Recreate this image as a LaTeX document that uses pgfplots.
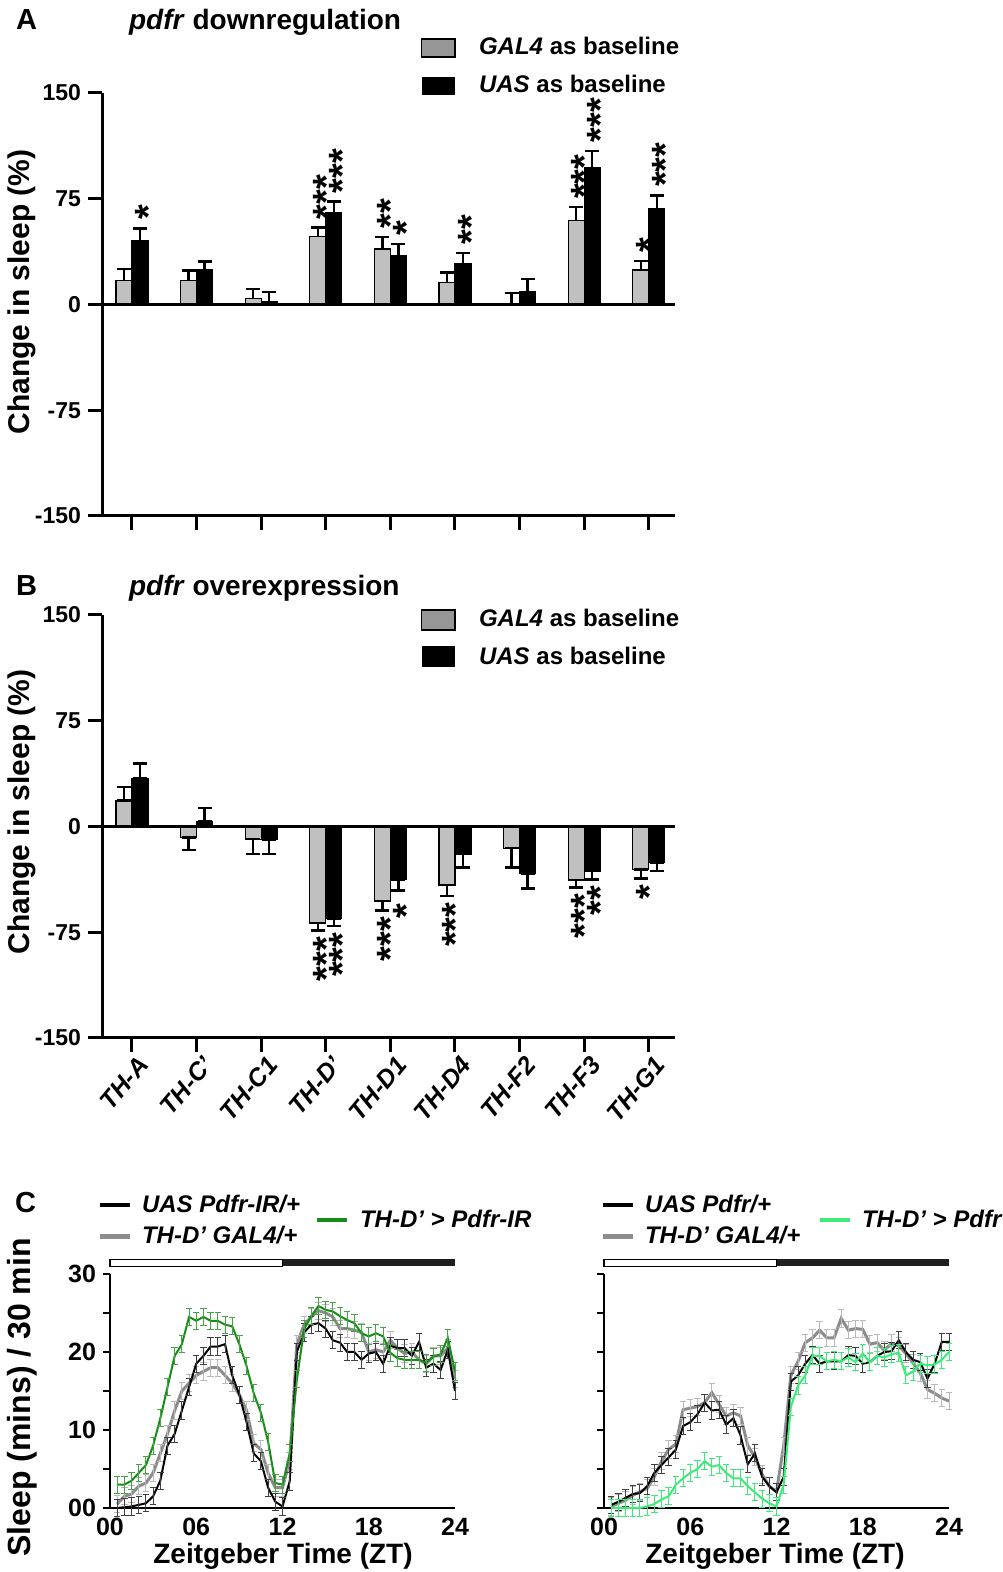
\documentclass[border=0pt]{standalone}
\usepackage{fontspec}
\setmainfont{Liberation Sans}
\usepackage{pgfplots}
\pgfplotsset{compat=1.18}
\usepackage{pgfplotstable}

\definecolor{bargray}{RGB}{192,192,192}
\definecolor{leggray}{RGB}{150,150,150}
\definecolor{linegray}{RGB}{140,140,140}
\definecolor{dkgreen}{RGB}{24,140,24}
\definecolor{ltgreen}{RGB}{60,235,120}

% change in sleep (%), mean and error, GAL4 baseline (g) and UAS baseline (b)
\pgfplotstableread{
x g ge b be
0 17 8.2 45 9
1 17 7 24.5 6.1
2 4 6.8 2 6.7
3 48 6.5 65.4 7.6
4 39.3 8.7 34.6 8.2
5 15.8 6.8 29.2 7.5
6 0.5 7.5 9.2 8.7
7 59.7 9.3 97.3 11.7
8 24.5 6.5 68.2 9.2
}\tabA

\pgfplotstableread{
x g gp gm b bp bm
0 18.4 9.4 0 34.2 10.6 0
1 -7.8 0 8.7 3.5 9.5 0
2 -9 0 10.3 -9.4 0 9.9
3 -68.4 0 5.4 -65.5 0 5.2
4 -52.9 0 6.7 -37.5 0 7.8
5 -41.5 0 7.9 -19.7 0 9.5
6 -15.4 0 13.8 -33.5 0 10.4
7 -38 0 5.4 -31.6 0 5.9
8 -30.4 0 6.6 -25.6 0 6
}\tabB

% sleep per 30 min: k = UAS/+, g = TH-D' GAL4/+, r = TH-D' > ...
\pgfplotstableread{
t k g r
0.5 0.0 0.5 3.0
1.0 0.1 1.5 3.0
1.5 0.2 1.8 3.5
2.0 0.4 2.8 4.5
2.5 0.6 3.2 5.5
3.0 1.5 4.5 8.0
3.5 3.5 7.0 11.5
4.0 8.0 9.5 15.5
4.5 9.5 12.5 19.5
5.0 12.5 15.0 21.0
5.5 15.5 16.0 24.5
6.0 18.5 17.0 24.0
6.5 19.5 17.5 24.5
7.0 20.7 18.0 24.0
7.5 20.7 18.0 24.0
8.0 21.0 17.0 23.5
8.5 17.0 16.0 23.3
9.0 14.5 14.5 21.0
9.5 11.0 12.5 18.2
10.0 7.0 8.3 14.7
10.5 6.0 7.5 12.2
11.0 2.6 4.5 8.5
11.5 0.8 2.6 3.2
12.0 0.2 2.6 3.0
12.5 3.4 6.0 7.0
13.0 20.0 21.0 16.5
13.5 22.5 23.5 22.9
14.0 23.5 24.5 24.6
14.5 23.7 25.3 25.9
15.0 23.0 25.0 25.4
15.5 21.5 24.5 25.2
16.0 21.2 23.0 24.6
16.5 20.0 23.0 24.1
17.0 20.0 22.8 23.7
17.5 19.0 22.5 22.4
18.0 19.8 20.0 22.0
18.5 20.0 20.3 22.4
19.0 18.5 20.0 22.0
19.5 20.8 21.5 19.9
20.0 20.5 20.5 19.2
20.5 20.5 19.8 19.0
21.0 19.5 20.0 19.0
21.5 21.3 19.0 19.0
22.0 18.0 18.5 18.6
22.5 18.5 19.5 19.4
23.0 17.7 19.5 19.7
23.5 20.3 20.5 21.8
24.0 15.0 16.5 17.5
}\tabCL

\pgfplotstableread{
t k g r
0.5 0.4 0.2 0.0
1.0 0.8 0.6 0.0
1.5 1.3 1.0 0.0
2.0 1.8 1.6 0.0
2.5 1.9 2.1 0.0
3.0 2.8 2.5 0.2
3.5 4.5 4.0 0.5
4.0 5.5 6.0 1.1
4.5 6.5 7.5 1.5
5.0 7.5 8.2 3.0
5.5 10.5 12.6 3.8
6.0 11.0 12.8 4.5
6.5 12.0 13.0 5.0
7.0 13.5 13.5 6.0
7.5 12.5 14.8 5.3
8.0 12.6 13.3 5.5
8.5 10.7 11.8 4.5
9.0 11.5 12.2 3.8
9.5 9.3 11.8 3.8
10.0 5.6 8.0 2.8
10.5 7.0 6.5 2.0
11.0 4.0 4.3 1.2
11.5 2.8 2.8 0.6
12.0 2.0 2.1 0.2
12.5 4.0 8.0 3.0
13.0 16.2 17.0 13.0
13.5 17.0 18.8 15.7
14.0 18.5 21.2 17.0
14.5 19.6 21.8 19.5
15.0 18.5 22.8 19.5
15.5 18.8 21.8 18.8
16.0 18.8 21.8 19.0
16.5 18.8 24.3 18.8
17.0 19.6 22.8 19.3
17.5 19.5 23.0 18.7
18.0 18.5 22.9 19.8
18.5 18.7 21.0 18.7
19.0 19.5 21.2 19.5
19.5 20.0 20.2 19.3
20.0 20.1 21.1 19.7
20.5 21.5 20.8 19.9
21.0 20.0 19.8 17.0
21.5 19.0 18.6 17.5
22.0 18.7 17.3 18.5
22.5 16.6 15.2 18.3
23.0 18.5 14.7 18.4
23.5 21.3 14.1 19.0
24.0 21.3 13.7 20.0
}\tabCR

\pgfplotsset{
  barax/.style={scale only axis, width=286.5pt, height=211.5pt, anchor=south west,
    xmin=-0.464, xmax=8.406, ymin=-150, ymax=150,
    axis x line*=bottom, axis y line*=left,
    axis line style={-, line width=1.5pt},
    tick align=outside, major tick length=7pt,
    tick style={line width=1.5pt, black},
    xtick={0,...,8}, ytick={-150,-75,0,75,150},
    yticklabels={-150,-75,0,75,150},
    ticklabel style={font=\fontsize{11.5}{12}\selectfont\bfseries},
    clip=false},
  gbar/.style={ybar, bar width=8pt, bar shift=0pt, fill=bargray, draw=black, line width=0.6pt},
  kbar/.style={ybar, bar width=8pt, bar shift=0pt, fill=black, draw=black, line width=0.6pt},
  error bars/ebar/.style={error bar style={line width=1.2pt, black},
    error mark options={rotate=90, mark size=3.5pt, line width=1.2pt, black}},
  cax/.style={scale only axis, width=172.5pt, height=117pt, anchor=south west,
    xmin=0, xmax=24, ymin=0, ymax=30,
    axis x line*=bottom, axis y line*=left,
    axis line style={-, line width=1.1pt},
    tick align=outside, major tick length=3.5pt,
    xtick={0,6,12,18,24}, xticklabels={00,06,12,18,24},
    ytick={0,5,...,30},
    ytick style={line width=1.1pt, black}, xtick style={draw=none},
    ticklabel style={font=\fontsize{12.5}{13}\selectfont\bfseries},
    xticklabel style={yshift=2pt},
    clip=false},
  eb/.style={error bars/.cd, y dir=both, y fixed=1.1,
    error bar style={line width=0.5pt, color=#1},
    error mark options={rotate=90, mark size=1.6pt, line width=0.5pt, color=#1}},
}

\newcommand{\stup}[3]{\node[xshift=4.2pt, yshift=3pt, rotate=90, anchor=west, inner sep=1pt,
  font=\fontsize{19}{19}\selectfont\bfseries] at (axis cs:#1,#2) {#3};}
\newcommand{\stdn}[3]{\node[xshift=4.2pt, yshift=-2pt, rotate=90, anchor=east, inner sep=1pt,
  font=\fontsize{19}{19}\selectfont\bfseries] at (axis cs:#1,#2) {#3};}

\begin{document}
\begin{tikzpicture}
\path[use as bounding box] (0,0) rectangle (501pt,786pt);

% ---------- panel A
\node[anchor=base west, font=\fontsize{14.5}{14.5}\selectfont\bfseries] at (4.5pt,771pt) {A};
\node[anchor=base west, font=\fontsize{14}{14}\selectfont\bfseries] at (61pt,771pt) {\textit{pdfr} downregulation};
\node[rotate=90, font=\fontsize{15}{15}\selectfont\bfseries] at (11pt,640pt) {Change in sleep (\%)};
\draw[fill=leggray, line width=0.6pt] (210.8pt,757.5pt) rectangle (227.5pt,766.5pt);
\fill[black] (210.8pt,738.5pt) rectangle (227.5pt,747.7pt);
\node[anchor=base west, font=\fontsize{12}{12}\selectfont\bfseries] at (236pt,758.5pt) {\textit{GAL4} as baseline};
\node[anchor=base west, font=\fontsize{12}{12}\selectfont\bfseries] at (236pt,739.5pt) {\textit{UAS} as baseline};

\begin{axis}[barax, at={(51pt,528pt)}, xticklabels={}]
\addplot[gbar, error bars/.cd, y dir=plus, y explicit, ebar]
  table[x expr=\thisrow{x}-0.124, y=g, y error=ge] {\tabA};
\addplot[kbar, error bars/.cd, y dir=plus, y explicit, ebar]
  table[x expr=\thisrow{x}+0.124, y=b, y error=be] {\tabA};
\draw[line width=1.5pt] (axis cs:-0.464,0) -- (axis cs:8.406,0);
\stup{0.124}{54}{*}
\stup{2.876}{54.5}{***}
\stup{3.124}{73}{***}
\stup{3.876}{48}{**}
\stup{4.124}{42.8}{*}
\stup{5.124}{36.7}{**}
\stup{6.876}{69}{***}
\stup{7.124}{109}{***}
\stup{7.876}{31}{*}
\stup{8.124}{77.4}{***}
\end{axis}

% ---------- panel B
\node[anchor=base west, font=\fontsize{14.5}{14.5}\selectfont\bfseries] at (4.5pt,488pt) {B};
\node[anchor=base west, font=\fontsize{14}{14}\selectfont\bfseries] at (61pt,488pt) {\textit{pdfr} overexpression};
\node[rotate=90, font=\fontsize{15}{15}\selectfont\bfseries] at (11pt,380pt) {Change in sleep (\%)};
\draw[fill=leggray, line width=0.6pt] (210.8pt,471pt) rectangle (227.5pt,481pt);
\fill[black] (210.8pt,452.7pt) rectangle (227.5pt,463pt);
\node[anchor=base west, font=\fontsize{12}{12}\selectfont\bfseries] at (236pt,472.7pt) {\textit{GAL4} as baseline};
\node[anchor=base west, font=\fontsize{12}{12}\selectfont\bfseries] at (236pt,453.5pt) {\textit{UAS} as baseline};

\begin{axis}[barax, at={(51pt,267pt)},
  xticklabels={TH-A,TH-C’,TH-C1,TH-D’,TH-D1,TH-D4,TH-F2,TH-F3,TH-G1},
  xticklabel style={rotate=50, anchor=east, xshift=4pt, yshift=-7pt,
    font=\fontsize{12.5}{12.5}\selectfont\bfseries\itshape}]
\addplot[gbar, error bars/.cd, y dir=both, y explicit, ebar]
  table[x expr=\thisrow{x}-0.124, y=g, y error plus=gp, y error minus=gm] {\tabB};
\addplot[kbar, error bars/.cd, y dir=both, y explicit, ebar]
  table[x expr=\thisrow{x}+0.124, y=b, y error plus=bp, y error minus=bm] {\tabB};
\draw[line width=1.5pt] (axis cs:-0.464,0) -- (axis cs:8.406,0);
\stdn{2.876}{-73.8}{***}
\stdn{3.124}{-70.7}{***}
\stdn{3.876}{-59.6}{***}
\stdn{4.124}{-50}{*}
\stdn{4.876}{-49.4}{***}
\stdn{6.876}{-43.4}{***}
\stdn{7.124}{-37.5}{**}
\stdn{7.876}{-37}{*}
\end{axis}

% ---------- panel C
\node[anchor=base west, font=\fontsize{14.5}{14.5}\selectfont\bfseries] at (4pt,179.5pt) {C};
\node[rotate=90, font=\fontsize{16}{16}\selectfont\bfseries] at (11pt,87.3pt) {Sleep (mins) / 30 min};
\node[font=\fontsize{14}{14}\selectfont\bfseries] at (141.5pt,8pt) {Zeitgeber Time (ZT)};
\node[font=\fontsize{14}{14}\selectfont\bfseries] at (387.5pt,8pt) {Zeitgeber Time (ZT)};

\begin{scope}[font=\fontsize{12}{12}\selectfont\bfseries\itshape]
\draw[black, line width=2pt] (50pt,183.5pt) -- (65pt,183.5pt);
\node[anchor=base west] at (67.5pt,179.5pt) {UAS Pdfr-IR/+};
\draw[linegray, line width=2.5pt] (50pt,167.5pt) -- (65pt,167.5pt);
\node[anchor=base west] at (67.5pt,164pt) {TH-D’ GAL4/+};
\draw[dkgreen, line width=2pt] (158.5pt,176pt) -- (173.5pt,176pt);
\node[anchor=base west] at (176.5pt,172pt) {TH-D’ > Pdfr-IR};

\draw[black, line width=2pt] (301.5pt,183.5pt) -- (316.5pt,183.5pt);
\node[anchor=base west] at (319pt,179.5pt) {UAS Pdfr/+};
\draw[linegray, line width=2.5pt] (301.5pt,167.5pt) -- (316.5pt,167.5pt);
\node[anchor=base west] at (319pt,164pt) {TH-D’ GAL4/+};
\draw[ltgreen, line width=2pt] (410pt,176pt) -- (425pt,176pt);
\node[anchor=base west] at (427.5pt,172pt) {TH-D’ > Pdfr};
\end{scope}

\begin{axis}[cax, at={(55pt,32pt)}, yticklabels={00,,10,,20,,30}]
\draw[line width=0.6pt, fill=white] (axis cs:0,31.0) rectangle (axis cs:12,31.9);
\fill[black!88] (axis cs:12,31.0) rectangle (axis cs:24,31.9);
\addplot[linegray, line width=1.5pt, eb=gray!55] table[x=t, y=g] {\tabCL};
\addplot[black, line width=1pt, eb=black!75] table[x=t, y=k] {\tabCL};
\addplot[dkgreen, line width=1pt, eb=dkgreen!80] table[x=t, y=r] {\tabCL};
\end{axis}

\begin{axis}[cax, at={(302pt,32pt)}, yticklabels={}]
\draw[line width=0.6pt, fill=white] (axis cs:0,31.0) rectangle (axis cs:12,31.9);
\fill[black!88] (axis cs:12,31.0) rectangle (axis cs:24,31.9);
\addplot[linegray, line width=1.5pt, eb=gray!55] table[x=t, y=g] {\tabCR};
\addplot[black, line width=1pt, eb=black!75] table[x=t, y=k] {\tabCR};
\addplot[ltgreen, line width=1pt, eb=ltgreen] table[x=t, y=r] {\tabCR};
\end{axis}
\end{tikzpicture}
\end{document}
